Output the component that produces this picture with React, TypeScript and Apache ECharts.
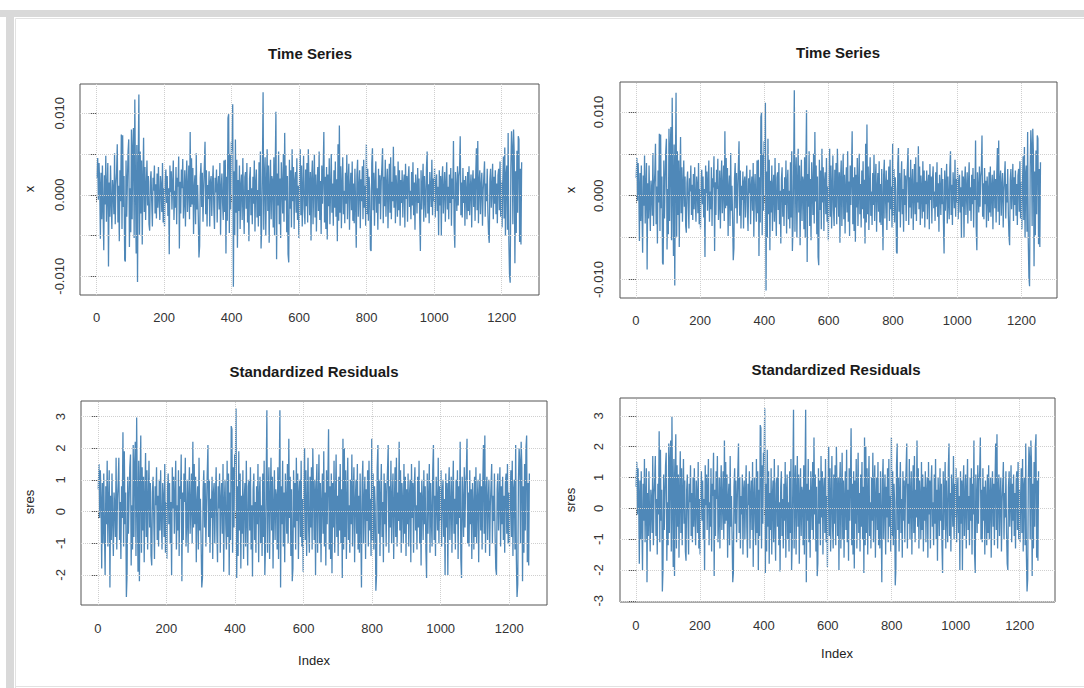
import React, { useEffect, useRef } from "react";
import * as echarts from "echarts";

// Observations are plotted at index 1, 3, 5, ... (every second day of the 1259-day series)
const INDEX_STEP = 2;

const xTickValues = [0, 200, 400, 600, 800, 1000, 1200];
const tsTickValues = [-0.01, -0.005, 0, 0.005, 0.01];
const tsLabelValues = [-0.01, 0, 0.01];
const sresTicksLeft = [-2, -1, 0, 1, 2, 3];
const sresTicksRight = [-3, -2, -1, 0, 1, 2, 3];

// Time series x, in units of 1e-3 (converted to raw returns when plotted)
const xPermille = [
  2.1,4.5,-0.6,3.9,1.2,-5.4,2.7,-3.0,3.6,-1.8,
  -6.8,2.4,-1.2,4.8,-3.3,0.9,3.9,-8.8,1.5,-2.7,
  3.6,-0.9,-4.2,1.8,0.6,-2.4,5.1,-3.6,1.2,2.7,
  6.2,-3.4,1.1,-5.7,3.0,-0.8,7.4,-4.2,7.3,-1.5,
  2.3,-8.0,-8.2,4.2,-2.7,1.5,5.3,6.8,-6.4,0.8,
  -4.6,8.0,-3.0,5.7,8.2,-5.3,11.7,1.1,-7.2,6.1,
  -10.7,3.4,12.3,-4.9,5.3,-2.3,4.2,-6.1,1.9,7.0,
  -2.1,3.4,-3.1,1.0,4.2,-1.3,2.3,-3.6,-4.4,1.6,
  2.9,-0.8,-3.9,2.1,0.5,3.6,-2.3,1.3,-2.9,2.6,
  -1.6,3.4,-0.5,-3.1,2.3,1.0,-2.1,3.9,-3.4,0.8,
  -3.9,1.8,3.1,-1.0,2.3,-2.6,0.8,-7.3,3.6,0.3,
  2.9,-1.8,1.3,4.2,-3.1,0.5,-1.6,3.4,-3.6,2.1,
  1.0,4.7,-6.6,1.6,-2.3,3.1,0.8,4.4,-2.9,-0.8,
  3.0,-3.9,1.5,4.2,-2.1,0.6,3.6,-3.0,7.7,-1.5,
  4.5,-1.2,3.3,-4.8,0.9,2.4,-3.6,5.1,-1.8,1.2,
  -2.7,-7.7,-6.3,2.1,3.9,-1.5,2.7,-3.3,0.6,3.6,
  6.5,-2.4,3.0,-3.9,1.2,-0.5,2.9,-3.9,1.6,2.3,
  -2.6,1.3,3.6,-1.6,-4.2,2.1,0.3,3.1,-3.4,1.0,
  2.3,-1.8,3.9,-4.9,0.8,2.6,-1.0,-3.1,4.2,-2.1,
  4.3,-7.2,2.2,-3.2,9.4,9.9,-4.7,5.0,-1.8,6.5,
  5.4,11.1,-11.3,2.9,-5.0,6.8,-2.2,4.3,-6.5,1.8,
  -2.0,3.6,-4.2,1.1,2.5,-3.1,4.5,-0.8,-4.8,2.2,
  2.8,-1.7,3.9,-3.4,0.6,-5.7,2.0,3.4,-2.5,0.8,
  -3.6,2.2,-1.1,4.2,-4.5,1.4,3.1,-2.8,0.6,-3.9,
  4.0,-2.6,5.3,-6.6,-3.6,3.3,12.6,-4.3,2.0,4.6,
  -5.0,1.3,5.6,-2.0,3.6,-5.9,0.7,4.3,-3.0,2.3,
  1.7,-4.0,4.6,-5.0,3.3,10.2,-7.9,2.6,-1.3,5.3,
  -3.6,2.0,-5.3,4.0,1.0,-2.3,5.0,-3.3,7.6,-0.7,
  3.6,-4.6,2.3,-7.3,-8.3,4.3,-1.7,3.0,-4.0,5.6,
  -0.8,3.4,-4.2,1.7,2.8,-2.2,4.5,-3.1,1.1,-5.3,
  2.2,5.6,-2.5,3.6,-3.9,0.6,4.8,-1.7,-3.6,3.1,
  -1.4,3.9,-3.4,5.6,1.7,-2.5,2.8,-5.6,2.0,4.2,
  -3.6,1.1,5.0,-2.8,2.5,-4.5,0.8,3.4,-2.0,5.3,
  -3.1,1.7,-4.8,3.6,-1.1,2.8,7.7,-3.4,2.2,-4.2,
  3.4,-5.5,2.5,-1.4,4.5,-3.6,0.8,5.0,-2.2,1.4,
  -3.8,3.0,-1.6,4.1,-2.7,1.9,-5.7,6.2,-3.2,8.5,
  -2.2,3.5,-4.1,1.1,4.6,-2.4,0.5,-3.5,2.7,-1.1,
  4.9,-3.0,1.6,3.8,-4.3,0.8,2.7,-1.9,4.1,-3.2,
  1.4,-3.5,3.2,-1.1,-6.5,2.4,4.3,-2.7,0.8,3.0,
  -4.1,1.9,-0.8,3.5,-3.0,4.3,-1.6,1.1,-3.8,6.2,
  -2.4,3.2,-3.2,2.2,0.5,-6.7,-6.9,3.8,5.7,-1.9,
  2.7,-3.8,1.4,4.1,-2.2,0.8,-4.3,3.2,-1.1,2.4,
  -3.0,1.6,3.5,5.7,-3.5,2.2,-1.4,4.3,-2.7,1.1,
  3.2,-4.1,0.5,3.8,-2.2,4.6,-3.0,1.6,-0.8,5.9,
  -1.6,3.5,-3.5,2.4,0.8,-2.7,4.1,-1.9,3.0,-3.8,
  1.8,-1.0,3.0,-2.8,1.3,2.5,-4.0,3.8,-0.5,2.3,
  -3.3,2.0,3.5,-1.5,0.5,-3.0,2.8,-1.3,4.0,-2.5,
  1.5,-4.3,2.5,0.8,-2.3,3.3,-1.0,2.0,-3.0,-6.9,
  3.0,-1.8,1.0,3.8,-3.3,2.3,-0.5,-2.8,3.3,5.3,
  -2.3,1.3,-3.5,2.8,0.8,-1.5,4.3,-2.5,2.0,-0.8,
  3.3,-2.8,1.5,2.5,-2.0,1.0,-5.0,3.0,-1.3,2.3,
  -5.0,1.8,3.5,-2.3,0.5,2.8,-3.3,1.3,4.0,-1.8,
  1.0,-3.0,2.5,-1.0,3.3,-3.8,2.0,-0.5,6.6,-3.8,
  -6.5,2.8,0.8,-2.0,3.5,-1.3,2.3,3.0,7.2,-2.5,
  1.5,-2.8,3.3,-1.0,1.8,-3.8,2.3,0.5,-3.0,2.8,
  -2.0,3.5,-2.5,0.8,2.5,-4.0,1.3,3.0,-1.5,2.0,
  -3.2,2.4,5.7,-1.9,6.6,-3.5,1.6,3.0,-2.4,1.1,
  2.7,-3.8,0.5,2.2,4.1,-2.7,1.4,-0.8,3.2,-2.2,
  -4.9,-5.9,1.9,3.2,-1.6,0.8,3.8,-3.0,2.2,-1.1,
  3.0,-2.4,1.4,-3.5,2.4,3.2,-1.9,4.1,-2.7,1.6,
  -4.0,1.4,4.7,-2.9,5.8,-5.0,2.5,3.6,-4.3,7.6,
  -5.4,-9.7,-10.8,3.2,7.8,5.8,-3.6,8.0,5.0,-8.4,
  2.9,-4.7,5.4,-2.2,7.2,6.8,-5.8,3.2,-6.1,4.0,
];

// Standardized residuals
const sres = [
  0.7,1.5,-0.2,1.3,0.4,-1.8,0.9,-1.0,1.2,-0.6,
  -2.0,0.8,-0.4,1.6,-1.1,0.3,1.3,-2.4,0.5,-0.9,
  1.2,-0.3,-1.4,0.6,0.2,-0.8,1.7,-1.2,0.4,0.9,
  1.7,-0.9,0.3,-1.5,0.8,-0.2,2.5,-1.1,1.9,-0.4,
  0.6,-2.7,-2.0,1.1,-0.7,0.4,1.4,1.8,-1.7,0.2,
  -1.2,2.1,-0.8,1.5,2.2,-1.4,2.97,0.3,-1.9,1.6,
  -2.2,0.9,2.4,-1.3,1.4,-0.6,1.1,-1.6,0.5,1.85,
  -0.8,1.3,-1.2,0.4,1.6,-0.5,0.9,-1.4,-1.7,0.6,
  1.1,-0.3,-1.5,0.8,0.2,1.4,-0.9,0.5,-1.1,1.0,
  -0.6,1.3,-0.2,-1.2,0.9,0.4,-0.8,1.5,-1.3,0.3,
  -1.5,0.7,1.2,-0.4,0.9,-1.0,0.3,-2.0,1.4,0.1,
  1.1,-0.7,0.5,1.6,-1.2,0.2,-0.6,1.3,-1.4,0.8,
  0.4,1.8,-2.2,0.6,-0.9,1.2,0.3,1.7,-1.1,-0.3,
  1.0,-1.3,0.5,1.4,-0.7,0.2,1.2,-1.0,2.2,-0.5,
  1.5,-0.4,1.1,-1.6,0.3,0.8,-1.2,1.7,-0.6,0.4,
  -0.9,-2.4,-2.1,0.7,1.3,-0.5,0.9,-1.1,0.2,1.2,
  2.1,-0.8,1.0,-1.3,0.4,-0.2,1.1,-1.5,0.6,0.9,
  -1.0,0.5,1.4,-0.6,-1.6,0.8,0.1,1.2,-1.3,0.4,
  0.9,-0.7,1.5,-1.9,0.3,1.0,-0.4,-1.2,1.6,-0.8,
  1.2,-2.0,0.6,-0.9,2.7,2.6,-1.3,1.4,-0.5,1.8,
  1.5,3.25,-2.1,0.8,-1.4,1.9,-0.6,1.2,-1.8,0.5,
  -0.7,1.3,-1.5,0.4,0.9,-1.1,1.6,-0.3,-1.7,0.8,
  1.0,-0.6,1.4,-1.2,0.2,-2.05,0.7,1.2,-0.9,0.3,
  -1.3,0.8,-0.4,1.5,-1.6,0.5,1.1,-1.0,0.2,-1.4,
  1.2,-0.8,1.6,-2.0,-1.1,1.0,3.2,-1.3,0.6,1.4,
  -1.5,0.4,1.7,-0.6,1.1,-1.8,0.2,1.3,-0.9,0.7,
  0.5,-1.2,1.4,-1.5,1.0,3.2,-2.4,0.8,-0.4,1.6,
  -1.1,0.6,-1.6,1.2,0.3,-0.7,1.5,-1.0,2.3,-0.2,
  1.1,-1.4,0.7,-2.2,-1.8,1.3,-0.5,0.9,-1.2,1.7,
  -0.3,1.2,-1.5,0.6,1.0,-0.8,1.6,-1.1,0.4,-1.9,
  0.8,2.0,-0.9,1.3,-1.4,0.2,1.7,-0.6,-1.3,1.1,
  -0.5,1.4,-1.2,2.0,0.6,-0.9,1.0,-2.0,0.7,1.5,
  -1.3,0.4,1.8,-1.0,0.9,-1.6,0.3,1.2,-0.7,1.9,
  -1.1,0.6,-1.7,1.3,-0.4,1.0,2.6,-1.2,0.8,-1.5,
  1.2,-1.95,0.9,-0.5,1.6,-1.3,0.3,1.8,-0.8,0.5,
  -1.4,1.1,-0.6,1.5,-1.0,0.7,-2.1,2.3,-1.2,2.0,
  -0.8,1.3,-1.5,0.4,1.7,-0.9,0.2,-1.3,1.0,-0.4,
  1.8,-1.1,0.6,1.4,-1.6,0.3,1.0,-0.7,1.5,-1.2,
  0.5,-1.3,1.2,-0.4,-2.4,0.9,1.6,-1.0,0.3,1.1,
  -1.5,0.7,-0.3,1.3,-1.1,1.6,-0.6,0.4,-1.4,2.3,
  -0.9,1.2,-1.2,0.8,0.2,-2.5,-2.0,1.4,2.1,-0.7,
  1.0,-1.4,0.5,1.5,-0.8,0.3,-1.6,1.2,-0.4,0.9,
  -1.1,0.6,1.3,2.1,-1.3,0.8,-0.5,1.6,-1.0,0.4,
  1.2,-1.5,0.2,1.4,-0.8,1.7,-1.1,0.6,-0.3,2.2,
  -0.6,1.3,-1.3,0.9,0.3,-1.0,1.5,-0.7,1.1,-1.4,
  0.7,-0.4,1.2,-1.1,0.5,1.0,-1.6,1.5,-0.2,0.9,
  -1.3,0.8,1.4,-0.6,0.2,-1.2,1.1,-0.5,1.6,-1.0,
  0.6,-1.7,1.0,0.3,-0.9,1.3,-0.4,0.8,-1.2,-2.1,
  1.2,-0.7,0.4,1.5,-1.3,0.9,-0.2,-1.1,1.3,2.1,
  -0.9,0.5,-1.4,1.1,0.3,-0.6,1.7,-1.0,0.8,-0.3,
  1.3,-1.1,0.6,1.0,-0.8,0.4,-2.0,1.2,-0.5,0.9,
  -2.0,0.7,1.4,-0.9,0.2,1.1,-1.3,0.5,1.6,-0.7,
  0.4,-1.2,1.0,-0.4,1.3,-1.5,0.8,-0.2,2.2,-1.5,
  -2.1,1.1,0.3,-0.8,1.4,-0.5,0.9,1.2,2.3,-1.0,
  0.6,-1.1,1.3,-0.4,0.7,-1.5,0.9,0.2,-1.2,1.1,
  -0.8,1.4,-1.0,0.3,1.0,-1.6,0.5,1.2,-0.6,0.8,
  -1.2,0.9,2.1,-0.7,2.4,-1.3,0.6,1.1,-0.9,0.4,
  1.0,-1.4,0.2,0.8,1.5,-1.0,0.5,-0.3,1.2,-0.8,
  -1.8,-2.0,0.7,1.2,-0.6,0.3,1.4,-1.1,0.8,-0.4,
  1.1,-0.9,0.5,-1.3,0.9,1.2,-0.7,1.5,-1.0,0.6,
  -1.1,0.4,1.3,-0.8,1.6,-1.4,0.7,1.0,-1.2,2.1,
  -1.5,-2.7,-2.3,0.9,2.0,1.6,-1.0,2.2,1.4,-2.2,
  0.8,-1.3,1.5,-0.6,2.0,2.4,-1.6,0.9,-1.7,1.2,
];

const FONT = "'Liberation Sans', Arial, Helvetica, sans-serif";
const LINE_COLOR = "#4682B4";
const BOX_COLOR = "#555555";
const GRID_COLOR = "#cfcfcf";
const X_MIN = -49.4;
const X_MAX = 1310.4;

type Panel = {
  grid: { left: number; top: number; width: number; height: number };
  yMin: number;
  yMax: number;
  yTicks: number[];
  yLabels: number[];
  yFmt: (v: number) => string;
  values: number[][];
  labelMargin: number;
  xLabelMargin: number;
};

export default function App() {
  const ref = useRef<HTMLDivElement | null>(null);

  useEffect(() => {
    if (!ref.current) return;
    const chart = echarts.init(ref.current, undefined, { renderer: "svg" });

    const xData = xPermille.map((v, k) => [k * INDEX_STEP + 1, v / 1000]);
    const sData = sres.map((v, k) => [k * INDEX_STEP + 1, v]);

    const tsFmt = (v: number) => v.toFixed(3);
    const intFmt = (v: number) => String(Math.round(v));

    const panels: Panel[] = [
      { grid: { left: 80, top: 84, width: 459, height: 211 }, yMin: -0.0123, yMax: 0.0136, yTicks: tsTickValues, yLabels: tsLabelValues, yFmt: tsFmt, values: xData, labelMargin: 14, xLabelMargin: 16 },
      { grid: { left: 620, top: 82, width: 437, height: 216 }, yMin: -0.0122, yMax: 0.01357, yTicks: tsTickValues, yLabels: tsLabelValues, yFmt: tsFmt, values: xData, labelMargin: 15, xLabelMargin: 16 },
      { grid: { left: 81, top: 401, width: 466, height: 204 }, yMin: -2.95, yMax: 3.49, yTicks: sresTicksLeft, yLabels: sresTicksLeft, yFmt: intFmt, values: sData, labelMargin: 14, xLabelMargin: 17 },
      { grid: { left: 620, top: 398, width: 435, height: 204 }, yMin: -3.04, yMax: 3.58, yTicks: sresTicksRight, yLabels: sresTicksRight, yFmt: intFmt, values: sData, labelMargin: 15, xLabelMargin: 17 },
    ];

    const gridLines = (p: Panel) => [
      ...xTickValues.map((v) => [{ coord: [v, p.yMin] }, { coord: [v, p.yMax] }]),
      ...p.yTicks.map((v) => [{ coord: [X_MIN, v] }, { coord: [X_MAX, v] }]),
    ];

    const option: any = {
      animation: false,
      backgroundColor: "#ffffff",
      grid: panels.map((p) => ({
        ...p.grid,
        show: true,
        borderColor: BOX_COLOR,
        borderWidth: 1,
        backgroundColor: "transparent",
        containLabel: false,
      })),
      xAxis: panels.map((p, i) => ({
        type: "value",
        gridIndex: i,
        min: X_MIN,
        max: X_MAX,
        axisLine: { show: false },
        splitLine: { show: false },
        axisTick: { show: true, length: 7, customValues: xTickValues, lineStyle: { color: BOX_COLOR, width: 1 } },
        axisLabel: {
          customValues: xTickValues,
          formatter: (v: number) => String(Math.round(v)),
          fontSize: 13,
          fontFamily: FONT,
          color: "#333333",
          margin: p.xLabelMargin,
          hideOverlap: false,
        },
      })),
      yAxis: panels.map((p, i) => ({
        type: "value",
        gridIndex: i,
        min: p.yMin,
        max: p.yMax,
        axisLine: { show: false },
        splitLine: { show: false },
        axisTick: { show: true, length: 7, customValues: p.yTicks, lineStyle: { color: BOX_COLOR, width: 1 } },
        axisLabel: {
          customValues: p.yLabels,
          formatter: p.yFmt,
          rotate: 90,
          fontSize: 13,
          fontFamily: FONT,
          color: "#333333",
          margin: p.labelMargin,
          hideOverlap: false,
        },
      })),
      series: panels.map((p, i) => ({
        type: "line",
        xAxisIndex: i,
        yAxisIndex: i,
        data: p.values,
        showSymbol: false,
        symbol: "none",
        silent: true,
        color: LINE_COLOR,
        lineStyle: { color: LINE_COLOR, width: 1.3, opacity: 0.95 },
        emphasis: { disabled: true },
        markLine: {
          silent: true,
          symbol: "none",
          label: { show: false },
          emphasis: { disabled: true },
          lineStyle: { color: GRID_COLOR, type: "dotted", width: 1, opacity: 1 },
          data: gridLines(p),
        },
      })),
      graphic: [
        // page frame
        { type: "rect", shape: { x: 0, y: 10, width: 1084, height: 7 }, style: { fill: "#d9d9d9" }, silent: true },
        { type: "rect", shape: { x: 6, y: 10, width: 8, height: 678 }, style: { fill: "#d9d9d9" }, silent: true },
        { type: "line", shape: { x1: 15.5, y1: 18.5, x2: 1084, y2: 18.5 }, style: { stroke: "#e2e2e2", lineWidth: 1 }, silent: true },
        { type: "line", shape: { x1: 15.5, y1: 18.5, x2: 15.5, y2: 688 }, style: { stroke: "#e2e2e2", lineWidth: 1 }, silent: true },
        { type: "line", shape: { x1: 15.5, y1: 686.5, x2: 1084, y2: 686.5 }, style: { stroke: "#e2e2e2", lineWidth: 1 }, silent: true },
        // titles
        { type: "text", x: 310, y: 53, style: { text: "Time Series", font: `bold 15px ${FONT}`, fill: "#1a1a1a", align: "center", verticalAlign: "middle" } },
        { type: "text", x: 838, y: 52, style: { text: "Time Series", font: `bold 15px ${FONT}`, fill: "#1a1a1a", align: "center", verticalAlign: "middle" } },
        { type: "text", x: 314, y: 371, style: { text: "Standardized Residuals", font: `bold 15px ${FONT}`, fill: "#1a1a1a", align: "center", verticalAlign: "middle" } },
        { type: "text", x: 836, y: 369, style: { text: "Standardized Residuals", font: `bold 15px ${FONT}`, fill: "#1a1a1a", align: "center", verticalAlign: "middle" } },
        // axis names
        { type: "text", x: 29, y: 189, rotation: Math.PI / 2, style: { text: "x", font: `13px ${FONT}`, fill: "#222222", align: "center", verticalAlign: "middle" } },
        { type: "text", x: 570, y: 190, rotation: Math.PI / 2, style: { text: "x", font: `13px ${FONT}`, fill: "#222222", align: "center", verticalAlign: "middle" } },
        { type: "text", x: 29, y: 502, rotation: Math.PI / 2, style: { text: "sres", font: `13px ${FONT}`, fill: "#222222", align: "center", verticalAlign: "middle" } },
        { type: "text", x: 570, y: 500, rotation: Math.PI / 2, style: { text: "sres", font: `13px ${FONT}`, fill: "#222222", align: "center", verticalAlign: "middle" } },
        { type: "text", x: 314, y: 660, style: { text: "Index", font: `13px ${FONT}`, fill: "#222222", align: "center", verticalAlign: "middle" } },
        { type: "text", x: 837, y: 653, style: { text: "Index", font: `13px ${FONT}`, fill: "#222222", align: "center", verticalAlign: "middle" } },
      ],
    };

    chart.setOption(option);
    return () => chart.dispose();
  }, []);

  return (
    <div
      ref={ref}
      style={{ position: "absolute", left: 0, top: 0, width: 1084, height: 688, background: "#ffffff" }}
    />
  );
}
